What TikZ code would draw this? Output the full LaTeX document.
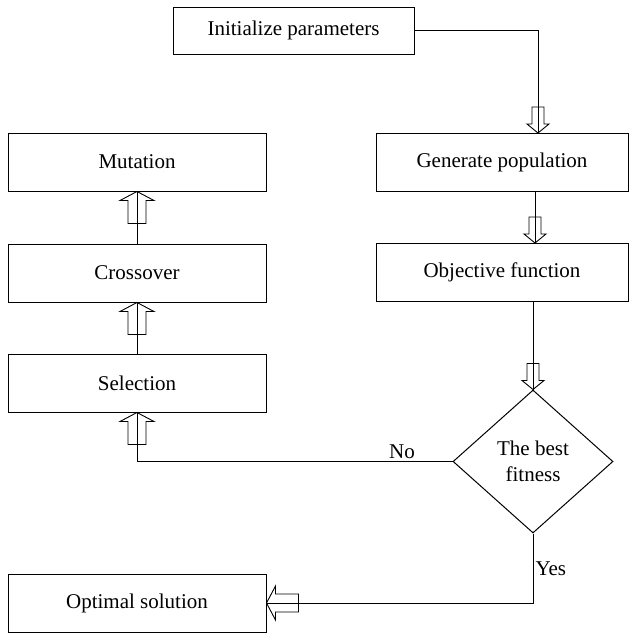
\documentclass[tikz,border=0pt]{standalone}
\usepackage{fontspec}
\setmainfont{Liberation Serif}
\usetikzlibrary{shapes.geometric}
\tikzstyle{block} = [rectangle, draw, line width=1pt, inner sep=0pt,
    minimum width=258, minimum height=58]
\tikzstyle{decision} = [diamond, draw, line width=1pt, inner sep=0pt,
    minimum width=160, minimum height=143, align=center]
\tikzstyle{line} = [draw, line width=1pt]
\tikzstyle{lbl} = [inner sep=2pt]
\tikzset{
    bigarrow/.pic={\draw[line width=0.9pt] (0,0) -- (-9,17) -- (-9,9) -- (-32,9)
        -- (-32,-9) -- (-9,-9) -- (-9,-17) -- cycle;},
    smallarrow/.pic={\draw[line width=0.9pt] (0,0) -- (-9,11) -- (-9,6) -- (-26,6)
        -- (-26,-6) -- (-9,-6) -- (-9,-11) -- cycle;},
}

\begin{document}
\begin{tikzpicture}[x=1pt, y=-1pt, font=\fontsize{21}{26}\selectfont]
                \useasboundingbox (0,0) rectangle (630,635);
                \node [block, minimum width=241, minimum height=47] at (293.5,30.5) (init) {Initialize parameters};
                \node [block, minimum width=252] at (502,162) (gen) {Generate population};
                \node [block, minimum width=252] at (502,272.5) (obj) {Objective function};
                \node [decision] at (533,461.5) (best) {The best\\fitness};
                \node [block] at (137,162) (mut) {Mutation};
                \node [block] at (137,273) (cross) {Crossover};
                \node [block] at (137,383) (sel) {Selection};
                \node [block] at (137,603) (opt) {Optimal solution};
                \coordinate (genin) at (538,133);
                \coordinate (objin) at (535,243);
                \path [line] (init.east) -| (genin);
                \pic [rotate=-90] at (genin) {smallarrow};
                \path [line] (objin |- gen.south) -- (objin);
                \pic [rotate=-90] at (objin) {smallarrow};
                \path [line] (best.north |- obj.south) -- (best.north);
                \pic [rotate=-90] at (best.north) {smallarrow};
                \path [line] (best.west) -| node [lbl, above, pos=0.08] (no) {No} (sel.south);
                \pic [rotate=90] at (sel.south) {bigarrow};
                \path [line] (sel.north) -- (cross.south);
                \pic [rotate=90] at (cross.south) {bigarrow};
                \path [line] (cross.north) -- (mut.south);
                \pic [rotate=90] at (mut.south) {bigarrow};
                \path [line] (best.south) |- node [lbl, right, pos=0.25] (yes) {Yes} (opt.east);
                \pic [rotate=180] at (opt.east) {bigarrow};
            \end{tikzpicture}
\end{document}
